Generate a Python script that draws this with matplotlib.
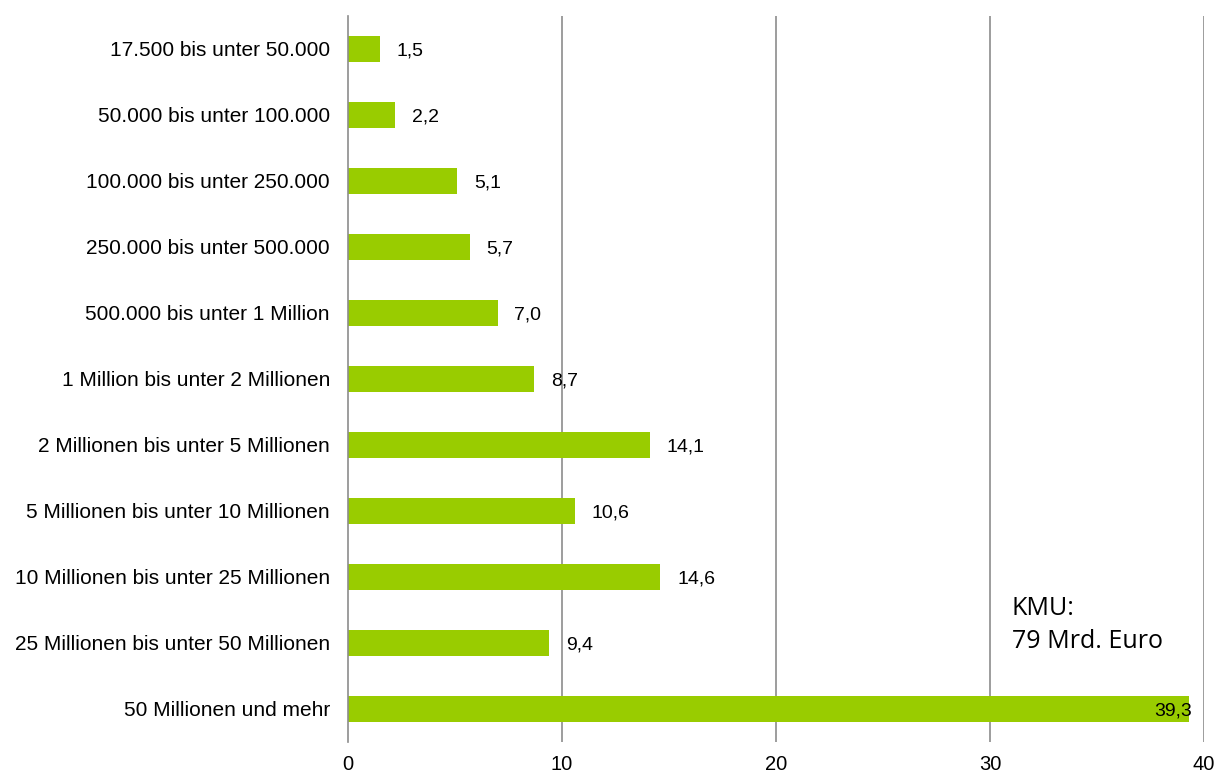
import matplotlib
matplotlib.use("Agg")
import matplotlib.pyplot as plt

categories = [
    "17.500 bis unter 50.000",
    "50.000 bis unter 100.000",
    "100.000 bis unter 250.000",
    "250.000 bis unter 500.000",
    "500.000 bis unter 1 Million",
    "1 Million bis unter 2 Millionen",
    "2 Millionen bis unter 5 Millionen",
    "5 Millionen bis unter 10 Millionen",
    "10 Millionen bis unter 25 Millionen",
    "25 Millionen bis unter 50 Millionen",
    "50 Millionen und mehr",
]
values = [1.5, 2.2, 5.1, 5.7, 7.0, 8.7, 14.1, 10.6, 14.6, 9.4, 39.3]
value_labels = ["1,5", "2,2", "5,1", "5,7", "7,0", "8,7", "14,1", "10,6", "14,6", "9,4", "39,3"]
x_ticks = [0, 10, 20, 30, 40]
note_text = "KMU:\n79 Mrd. Euro"

plt.rcParams["font.family"] = ["Liberation Sans", "DejaVu Sans"]

fig = plt.figure(figsize=(12.17, 7.76), dpi=100)
ax = fig.add_axes([348 / 1217, 1 - 742 / 776, (1204 - 348) / 1217, (742 - 16) / 776])

green = "#99CC00"
grid_col = "#8C8C8C"

y = list(range(len(categories)))
ax.barh(y, values, height=0.4, color=green, zorder=2)
ax.set_ylim(len(categories) - 0.5, -0.5)
ax.set_xlim(0, 40)

ax.set_yticks(y)
ax.set_yticklabels(categories, fontsize=15)
ax.set_xticks(x_ticks)
ax.set_xticklabels([str(t) for t in x_ticks], fontsize=14.5)
ax.tick_params(axis="both", length=0, colors="black")
ax.tick_params(axis="y", pad=13)
ax.tick_params(axis="x", pad=9)

for v in x_ticks[1:]:
    ax.axvline(v, color=grid_col, lw=1.2, zorder=1)
for s in ["top", "right", "bottom"]:
    ax.spines[s].set_visible(False)
ax.spines["left"].set_color(grid_col)
ax.spines["left"].set_linewidth(1.2)

# value labels beside the bar end; the longest bar carries its label inside
for i, (v, lab) in enumerate(zip(values, value_labels)):
    if v > 30:
        ax.annotate(lab, (v, i), xytext=(2, -1.5), textcoords="offset points",
                    ha="right", va="center", fontsize=14, zorder=3)
    else:
        ax.annotate(lab, (v, i), xytext=(12, -1.5), textcoords="offset points",
                    ha="left", va="center", fontsize=14, zorder=3)

fig.text(1012 / 1217, 1 - 625 / 776, note_text, fontsize=18, family=["Open Sans", "DejaVu Sans"],
         ha="left", va="center", linespacing=1.45)

fig.savefig("out.png", dpi=100)
